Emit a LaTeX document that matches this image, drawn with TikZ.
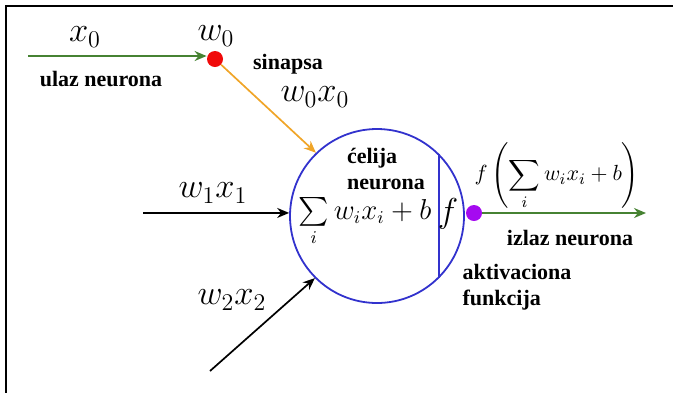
\documentclass[tikz,border=0pt]{standalone}
\usepackage{amsmath}
\usepackage{fontspec}
\setmainfont{Liberation Serif}
\usetikzlibrary{positioning, arrows.meta}

\definecolor{inputgreen}{RGB}{70,130,50}
\definecolor{synorange}{RGB}{240,165,40}
\definecolor{cellblue}{RGB}{50,50,205}
\definecolor{synred}{RGB}{240,10,10}
\definecolor{outpurple}{RGB}{165,10,240}

\begin{document}
\begin{tikzpicture}[
    x=0.5pt, y=-0.5pt,
    lbl/.style={font=\fontsize{11}{13}\selectfont\bfseries, align=left, inner sep=0pt},
    mth/.style={font=\fontsize{16.5}{18}\selectfont, inner sep=0pt},
    dot/.style={circle, inner sep=0pt, minimum size=8pt},
    arr/.style={-{Stealth[length=6pt, width=5pt]}, line width=0.85pt}
]
\useasboundingbox (0,0) rectangle (673,393);
\draw[line width=1.1pt] (673,6) -- (6,6) -- (6,393);

\node[circle, draw=cellblue, line width=0.9pt, minimum size=87pt, inner sep=0pt] (cell) at (377,216) {};
\draw[cellblue, line width=0.9pt] (cell.45) -- (cell.-45);

\node[dot, fill=synred] (syn) at (215,59) {};
\node[dot, fill=outpurple] (outdot) at (474,213) {};

\coordinate (in0) at (28,56);
\coordinate (in1) at (143,213);
\coordinate (in2) at (210,371);
\coordinate (outend) at (646,213);

\draw[arr, inputgreen] (in0) -- (syn.west |- in0);
\draw[arr, synorange] (syn) -- (cell.134);
\draw[arr, black] (in1) -- (cell.178);
\draw[arr, black] (in2) -- (cell.225);
\draw[arr, inputgreen] (outdot) -- (outend);

% math labels
\node[mth] (x0) at (85,37) {$x_0$};
\node[mth] (w0) at (216,36) {$w_0$};
\node[mth] (w0x0) at (315,97) {$w_0x_0$};
\node[mth] (w1x1) at (213,193) {$w_1x_1$};
\node[mth] (w2x2) at (232,300) {$w_2x_2$};
\node[mth, font=\fontsize{13.5}{15}\selectfont] (sum) at (365,222) {$\sum\limits_i w_ix_i+b$};
\node[mth] (fact) at (448,214) {$f$};
\node[mth, font=\fontsize{11}{13}\selectfont] (fout) at (557,176) {$f\left(\displaystyle\sum_i w_ix_i+b\right)$};

% text labels
\node[lbl] (ulaz) at (101,79) {ulaz neurona};
\node[lbl] (sinapsa) at (288,64) {sinapsa};
\node[lbl] (celija) at (386,169) {ćelija\\neurona};
\node[lbl] (izlaz) at (570,238) {izlaz neurona};
\node[lbl] (aktiv) at (517,287) {aktivaciona\\funkcija};
\end{tikzpicture}
\end{document}
